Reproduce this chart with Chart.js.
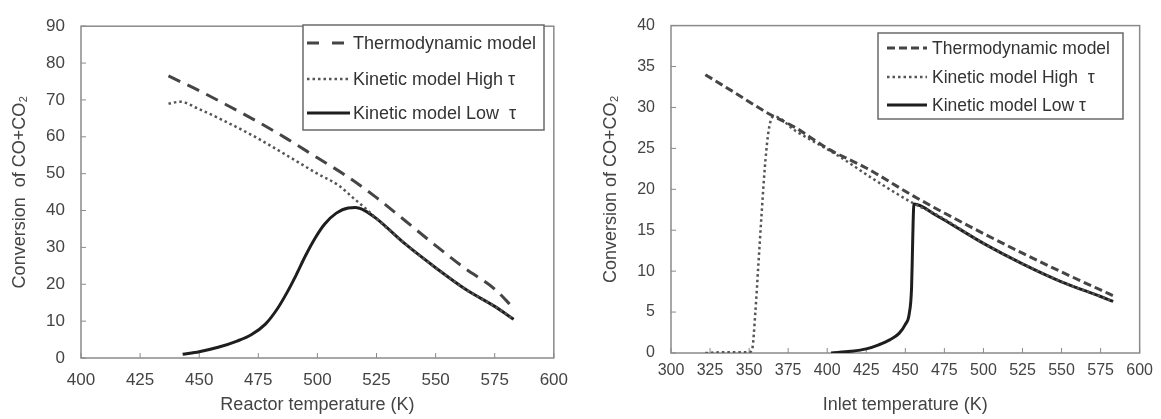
<!DOCTYPE html>
<html>
<head>
<meta charset="utf-8">
<script src="https://cdn.jsdelivr.net/npm/chart.js@4.4.1/dist/chart.umd.min.js"></script>
<style>
  html, body { margin: 0; padding: 0; background: #fff; }
  #wrap { position: relative; width: 1161px; height: 419px; }
  #c1 { position: absolute; left: 0; top: 0; }
  #c2 { position: absolute; left: 580px; top: 0; }
</style>
</head>
<body>
<div id="wrap">
  <canvas id="c1" width="580" height="419"></canvas>
  <canvas id="c2" width="581" height="419"></canvas>
</div>
<script>
// ---- left panel: conversion vs reactor temperature ----
const leftThermoT = [437, 450, 462, 475, 487, 500, 512, 525, 537, 550, 562, 575, 583];
const leftThermoY = [76.5, 72.5, 68.5, 64, 59.5, 54.3, 49.5, 43.5, 37.3, 30.5, 24.5, 18.7, 13.5];
const leftHighT = [437, 442, 450, 460, 475, 488, 500, 509, 515, 521, 525, 537, 550, 563, 575, 583];
const leftHighY = [69, 69.5, 67.5, 64.5, 59.5, 54.6, 50, 46.8, 43.5, 40.2, 37.8, 31, 24.5, 18.5, 14, 10.5];
const leftLowT = [443, 450, 458, 466, 472, 478, 483, 487, 491, 495, 499, 503, 508, 513, 516, 520, 525, 537, 550, 563, 575, 583];
const leftLowY = [1.0, 1.7, 2.9, 4.6, 6.3, 9.2, 13.3, 17.6, 22.5, 27.8, 32.5, 36.3, 39.3, 40.7, 40.8, 40, 37.8, 31, 24.5, 18.5, 14, 10.5];

// ---- right panel: conversion vs inlet temperature ----
const rightThermoT = [322, 340, 362, 380, 400, 425, 455, 475, 500, 525, 550, 575, 583];
const rightThermoY = [34, 31.9, 29.3, 27.5, 25, 22.6, 19.2, 17.1, 14.6, 12.2, 9.9, 7.7, 7.0];
const rightHighT = [322, 335, 350, 352, 354, 356, 358, 360, 362, 364, 366, 380, 407, 430, 455, 470, 500, 525, 550, 575, 583];
const rightHighY = [0, 0.1, 0.1, 0.5, 5, 11, 17, 22.5, 26.5, 28.5, 28.9, 27.1, 24.1, 21.2, 18.3, 16.9, 13.4, 10.9, 8.7, 6.9, 6.3];
const rightLowT = [402.5, 415, 425, 433, 440, 446, 450, 452.5, 454, 454.6, 455, 455.5, 470, 485, 500, 525, 550, 575, 583];
const rightLowY = [0, 0.2, 0.5, 1.0, 1.6, 2.4, 3.5, 4.8, 8, 12.7, 16, 18.2, 16.8, 15.1, 13.4, 10.9, 8.7, 6.9, 6.3];

const seriesNames = ["Thermodynamic model", "Kinetic model High \u03c4", "Kinetic model Low  \u03c4"];
const seriesNamesRight = ["Thermodynamic model", "Kinetic model High  \u03c4", "Kinetic model Low \u03c4"];

const FONT = "'Liberation Sans', Arial, sans-serif";

function pts(xs, ys) {
  return xs.map((x, i) => ({ x: x, y: ys[i] }));
}

// plot frame + small inward tick marks
const framePlugin = {
  id: "frame",
  beforeDatasetsDraw(chart) {
    const { ctx, chartArea: a, scales } = chart;
    ctx.save();
    ctx.strokeStyle = "#8a8a8a";
    ctx.lineWidth = 1.5;
    ctx.strokeRect(a.left, a.top, a.right - a.left, a.bottom - a.top);
    ctx.lineWidth = 1;
    scales.x.ticks.forEach(t => {
      const px = scales.x.getPixelForValue(t.value);
      ctx.beginPath(); ctx.moveTo(px, a.bottom); ctx.lineTo(px, a.bottom - 5); ctx.stroke();
    });
    scales.y.ticks.forEach(t => {
      const py = scales.y.getPixelForValue(t.value);
      ctx.beginPath(); ctx.moveTo(a.left, py); ctx.lineTo(a.left + 5, py); ctx.stroke();
    });
    ctx.restore();
  }
};

// boxed legend inside plot
const boxLegend = {
  id: "boxLegend",
  afterDraw(chart, args, o) {
    const ctx = chart.ctx;
    ctx.save();
    ctx.fillStyle = "#fff";
    ctx.fillRect(o.x, o.y, o.w, o.h);
    ctx.strokeStyle = "#6a6a6a";
    ctx.lineWidth = 1.5;
    ctx.strokeRect(o.x, o.y, o.w, o.h);
    chart.data.datasets.forEach((ds, i) => {
      const y = o.rows[i];
      ctx.strokeStyle = ds.borderColor;
      ctx.lineWidth = ds.borderWidth;
      ctx.setLineDash(o.dashes[i]);
      ctx.beginPath(); ctx.moveTo(o.x0, y); ctx.lineTo(o.x1, y); ctx.stroke();
      ctx.setLineDash([]);
      ctx.fillStyle = "#333";
      ctx.font = o.font;
      ctx.textBaseline = "middle";
      ctx.fillText(ds.label, o.tx, y + 1);
    });
    ctx.restore();
  }
};

function makeChart(id, cfg) {
  return new Chart(document.getElementById(id).getContext("2d"), {
    type: "line",
    data: {
      datasets: [
        {
          label: cfg.names[0], data: pts(cfg.thermo[0], cfg.thermo[1]),
          borderColor: "#454545", borderWidth: 3, borderDash: cfg.dash,
        },
        {
          label: cfg.names[1], data: pts(cfg.high[0], cfg.high[1]),
          borderColor: "#555", borderWidth: 2.5, borderDash: [2.5, 3],
        },
        {
          label: cfg.names[2], data: pts(cfg.low[0], cfg.low[1]),
          borderColor: "#1e1e1e", borderWidth: 3,
        },
      ],
    },
    options: {
      responsive: false,
      animation: false,
      parsing: false,
      elements: {
        point: { radius: 0 },
        line: { cubicInterpolationMode: "monotone", fill: false },
      },
      layout: { padding: { left: 0, right: cfg.padRight, top: cfg.padTop, bottom: 0 } },
      scales: {
        x: {
          type: "linear",
          min: cfg.xMin, max: cfg.xMax,
          grid: { display: false, drawTicks: false },
          border: { display: false },
          ticks: {
            stepSize: 25, autoSkip: false, maxRotation: 0,
            padding: cfg.xTickPad, color: "#444",
            font: { family: FONT, size: cfg.tickSize },
          },
          title: {
            display: true, text: cfg.xTitle, color: "#444",
            font: { family: FONT, size: 18 },
            padding: { top: 0, bottom: 3 },
          },
          afterFit: s => { s.height = cfg.xHeight; },
        },
        y: {
          min: 0, max: cfg.yMax,
          grid: { display: false, drawTicks: false },
          border: { display: false },
          ticks: {
            stepSize: cfg.yStep, padding: 16, color: "#444",
            font: { family: FONT, size: cfg.tickSize },
          },
          title: {
            display: true, text: cfg.yTitle, color: "#444",
            font: { family: FONT, size: 18 },
            padding: { top: cfg.yTitlePad, bottom: 0 },
          },
          afterFit: s => { s.width = cfg.yWidth; },
        },
      },
      plugins: {
        legend: { display: false },
        tooltip: { enabled: false },
        boxLegend: cfg.legend,
      },
    },
    plugins: [framePlugin, boxLegend],
  });
}

makeChart("c1", {
  names: seriesNames,
  thermo: [leftThermoT, leftThermoY],
  high: [leftHighT, leftHighY],
  low: [leftLowT, leftLowY],
  dash: [13, 8],
  xMin: 400, xMax: 600, yMax: 90, yStep: 10,
  xTitle: "Reactor temperature (K)",
  yTitle: "Conversion  of CO+CO\u2082",
  padRight: 26, padTop: 15, xHeight: 61, yWidth: 81,
  xTickPad: 12, tickSize: 17, yTitlePad: 9,
  legend: {
    x: 303, y: 25, w: 241, h: 105, rows: [43, 79, 113],
    x0: 307, x1: 350, tx: 353, font: "18px " + FONT,
    dashes: [[12, 13], [2.5, 3], []],
  },
});

makeChart("c2", {
  names: seriesNamesRight,
  thermo: [rightThermoT, rightThermoY],
  high: [rightHighT, rightHighY],
  low: [rightLowT, rightLowY],
  dash: [8, 4],
  xMin: 300, xMax: 600, yMax: 40, yStep: 5,
  xTitle: "Inlet temperature (K)",
  yTitle: "Conversion of CO+CO\u2082",
  padRight: 20, padTop: 19.5, xHeight: 66, yWidth: 91,
  xTickPad: 8, tickSize: 16, yTitlePad: 20,
  legend: {
    x: 298, y: 33, w: 245, h: 86, rows: [48, 77, 105],
    x0: 307, x1: 347, tx: 352, font: "17.5px " + FONT,
    dashes: [[8, 4], [2.5, 3], []],
  },
});
</script>
</body>
</html>
